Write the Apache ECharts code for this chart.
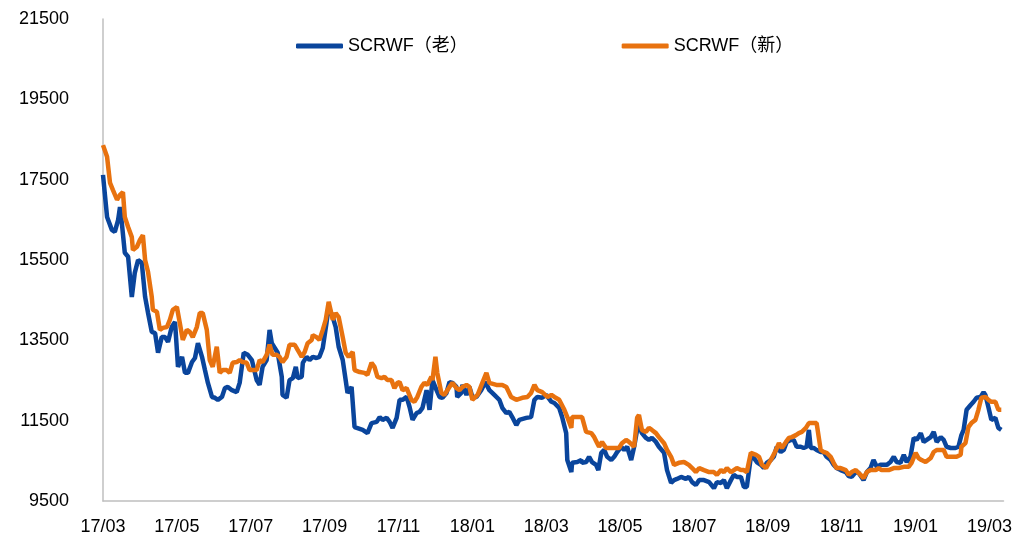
<!DOCTYPE html>
<html>
<head>
<meta charset="utf-8">
<title>SCRWF</title>
<style type="text/css">
html, body {
	margin: 0;
	padding: 0;
	background-color: #fff;
}
#main {
	width: 1015px;
	height: 546px;
}
</style>
</head>
<body>
<div id="main"></div>
<script src="https://cdn.jsdelivr.net/npm/echarts@6/dist/echarts.min.js"></script>
<script type="text/javascript">
// time = months since 2017/03
var oldT = [0, 0.11, 0.24, 0.32, 0.41, 0.46, 0.51, 0.59, 0.68, 0.78, 0.86, 0.95, 1.05, 1.14, 1.22, 1.32, 1.41, 1.49, 1.59, 1.68,
	1.76, 1.86, 1.95, 2.03, 2.14, 2.22, 2.30, 2.41, 2.49, 2.57, 2.68, 2.76, 2.84, 2.95, 3.03, 3.11, 3.22, 3.30, 3.38, 3.49,
	3.62, 3.70, 3.81, 3.92, 4.03, 4.16, 4.24, 4.32, 4.43, 4.51, 4.57, 4.65, 4.73, 4.84, 4.86, 4.97, 5.05, 5.14, 5.22, 5.27,
	5.38, 5.41, 5.51, 5.59, 5.68, 5.78, 5.86, 5.95, 6.05, 6.11, 6.22, 6.30, 6.38, 6.49, 6.57, 6.62, 6.73, 6.81, 7.03, 7.16,
	7.27, 7.41, 7.49, 7.57, 7.68, 7.76, 7.84, 7.95, 8.03, 8.11, 8.22, 8.30, 8.38, 8.49, 8.57, 8.65, 8.76, 8.84, 8.92, 9.03,
	9.11, 9.19, 9.30, 9.38, 9.46, 9.57, 9.59, 9.70, 9.73, 9.84, 9.92, 10.00, 10.11, 10.24, 10.35, 10.46, 10.54, 10.65, 10.73, 10.81,
	10.92, 11.00, 11.08, 11.19, 11.27, 11.46, 11.59, 11.68, 11.76, 11.89, 12.00, 12.14, 12.22, 12.35, 12.43, 12.54, 12.57, 12.68, 12.70, 12.84,
	12.95, 12.97, 13.08, 13.16, 13.24, 13.35, 13.41, 13.49, 13.57, 13.65, 13.76, 13.84, 13.92, 14.03, 14.11, 14.19, 14.30, 14.38, 14.46, 14.51,
	14.59, 14.70, 14.78, 14.86, 14.97, 15.05, 15.19, 15.27, 15.38, 15.46, 15.54, 15.65, 15.78, 15.86, 15.95, 16.05, 16.14, 16.27, 16.41, 16.54,
	16.62, 16.73, 16.81, 16.89, 17.00, 17.08, 17.16, 17.27, 17.35, 17.43, 17.54, 17.62, 17.70, 17.81, 17.89, 17.97, 18.08, 18.16, 18.24, 18.35,
	18.43, 18.51, 18.62, 18.70, 18.78, 18.89, 18.97, 19.05, 19.11, 19.16, 19.24, 19.32, 19.43, 19.51, 19.59, 19.70, 19.78, 19.86, 19.97, 20.11,
	20.19, 20.27, 20.38, 20.46, 20.59, 20.68, 20.78, 20.86, 20.95, 21.05, 21.14, 21.22, 21.32, 21.41, 21.49, 21.59, 21.68, 21.76, 21.86, 21.95,
	22.03, 22.14, 22.22, 22.30, 22.41, 22.49, 22.57, 22.68, 22.76, 22.84, 22.95, 23.08, 23.16, 23.24, 23.30, 23.38, 23.49, 23.57, 23.65, 23.76,
	23.84, 23.89, 23.97, 24.05, 24.16, 24.24, 24.32];
var oldV = [17620, 16570, 16250, 16200, 16500, 16820, 16420, 15680, 15580, 14580, 15180, 15500, 15430, 14580, 14180, 13710, 13680, 13190, 13580, 13580,
	13460, 13830, 13960, 12840, 13090, 12690, 12690, 12960, 13060, 13430, 13090, 12760, 12440, 12090, 12070, 12020, 12090, 12310, 12340, 12260,
	12210, 12440, 13190, 13140, 13010, 12510, 12390, 12840, 13010, 13760, 13430, 13310, 13190, 12590, 12140, 12070, 12510, 12560, 12840, 12560,
	12590, 12940, 13090, 13010, 13090, 13060, 13090, 13310, 13930, 14330, 14080, 13830, 13340, 13010, 12510, 12190, 12340, 11340, 11270, 11190,
	11440, 11470, 11590, 11520, 11570, 11470, 11320, 11570, 12020, 12020, 12090, 11840, 11520, 11690, 11720, 11820, 12260, 11770, 12510, 12260,
	12090, 12070, 12190, 12460, 12440, 12340, 12090, 12190, 12390, 12140, 12340, 12090, 12090, 12260, 12460, 12260, 12190, 12090, 12020, 11820,
	11690, 11720, 11590, 11390, 11520, 11570, 11590, 12020, 12090, 12070, 12140, 11970, 11940, 11820, 11590, 11190, 10520, 10220, 10450, 10470,
	10520, 10450, 10470, 10600, 10470, 10400, 10270, 10700, 10770, 10600, 10520, 10600, 10720, 10850, 10770, 10850, 10520, 10850, 11270, 11390,
	11190, 11070, 11020, 11070, 10970, 10850, 10700, 10270, 9950, 10020, 10050, 10100, 10050, 10100, 9970, 9900, 10020, 10020, 9970, 9820,
	9970, 9950, 10020, 9820, 10020, 10150, 10100, 10100, 9850, 9850, 10600, 10570, 10470, 10400, 10320, 10450, 10520, 10600, 10850, 10720,
	10770, 10970, 11020, 11020, 10850, 10850, 10820, 10850, 11270, 10820, 10820, 10770, 10720, 10720, 10600, 10520, 10400, 10320, 10270, 10220,
	10120, 10100, 10220, 10200, 10020, 10220, 10320, 10520, 10350, 10400, 10400, 10400, 10470, 10600, 10470, 10450, 10650, 10470, 10600, 11070,
	11020, 11190, 10970, 11020, 11090, 11220, 10970, 11090, 11020, 10850, 10820, 10820, 10850, 11140, 11270, 11770, 11890, 11970, 12070, 12090,
	12210, 12140, 11840, 11520, 11570, 11320, 11270];

var newT = [0, 0.11, 0.19, 0.27, 0.38, 0.46, 0.54, 0.59, 0.68, 0.78, 0.81, 0.92, 1.00, 1.08, 1.14, 1.22, 1.32, 1.35, 1.46, 1.54,
	1.62, 1.73, 1.81, 1.89, 2.00, 2.08, 2.16, 2.27, 2.35, 2.43, 2.54, 2.62, 2.70, 2.81, 2.89, 2.97, 3.08, 3.16, 3.24, 3.35,
	3.43, 3.51, 3.62, 3.70, 3.78, 3.89, 3.97, 4.05, 4.16, 4.24, 4.32, 4.43, 4.51, 4.59, 4.70, 4.78, 4.86, 4.97, 5.05, 5.19,
	5.27, 5.38, 5.46, 5.54, 5.65, 5.68, 5.78, 5.86, 5.95, 6.03, 6.11, 6.22, 6.30, 6.38, 6.49, 6.57, 6.65, 6.76, 6.81, 6.95,
	7.08, 7.16, 7.27, 7.35, 7.43, 7.54, 7.62, 7.70, 7.81, 7.89, 7.97, 8.03, 8.11, 8.22, 8.35, 8.43, 8.51, 8.62, 8.70, 8.78,
	8.89, 8.92, 9.00, 9.05, 9.16, 9.24, 9.38, 9.46, 9.57, 9.65, 9.73, 9.84, 9.92, 10.00, 10.14, 10.27, 10.38, 10.46, 10.65, 10.81,
	10.92, 11.05, 11.19, 11.35, 11.49, 11.59, 11.68, 11.76, 11.89, 12.03, 12.14, 12.22, 12.35, 12.49, 12.57, 12.68, 12.70, 12.97, 13.08, 13.22,
	13.30, 13.38, 13.43, 13.51, 13.62, 13.78, 13.97, 14.05, 14.16, 14.24, 14.38, 14.46, 14.51, 14.59, 14.70, 14.78, 14.86, 14.97, 15.05, 15.19,
	15.27, 15.38, 15.46, 15.59, 15.73, 15.86, 15.95, 16.05, 16.14, 16.27, 16.41, 16.54, 16.62, 16.73, 16.81, 16.89, 17.00, 17.08, 17.16, 17.27,
	17.35, 17.43, 17.54, 17.68, 17.76, 17.84, 17.95, 18.03, 18.11, 18.22, 18.30, 18.38, 18.49, 18.57, 18.65, 18.76, 18.84, 18.92, 19.03, 19.11,
	19.24, 19.32, 19.43, 19.51, 19.59, 19.70, 19.78, 19.86, 19.97, 20.11, 20.19, 20.27, 20.38, 20.51, 20.59, 20.68, 20.78, 20.92, 21.00, 21.08,
	21.19, 21.27, 21.41, 21.54, 21.68, 21.81, 21.89, 22.00, 22.08, 22.16, 22.27, 22.41, 22.49, 22.57, 22.68, 22.76, 22.84, 22.97, 23.11, 23.22,
	23.24, 23.35, 23.43, 23.51, 23.62, 23.70, 23.78, 23.89, 23.97, 24.05, 24.16, 24.24, 24.32];
var newV = [18360, 18070, 17420, 17240, 17000, 17120, 17190, 16570, 16320, 16070, 15750, 15830, 16000, 16120, 15500, 15200, 14580, 14260, 14210, 13760,
	13810, 13830, 14010, 14260, 14330, 13930, 13510, 13760, 13710, 13580, 13830, 14180, 14180, 13760, 13010, 12840, 13340, 12690, 12760, 12760,
	12690, 12940, 12960, 13010, 12960, 12940, 12760, 12760, 12760, 13010, 12960, 13140, 13390, 13140, 13140, 13090, 12960, 13090, 13390, 13390,
	13260, 13090, 13210, 13430, 13510, 13630, 13580, 13510, 13760, 14010, 14460, 14010, 14180, 14080, 13580, 13190, 13090, 13210, 12760, 12710,
	12690, 12640, 12940, 12840, 12590, 12560, 12590, 12510, 12510, 12310, 12440, 12460, 12260, 12310, 12020, 11970, 12090, 12340, 12440, 12390,
	12590, 12510, 13090, 12690, 12190, 12140, 12340, 12440, 12310, 12260, 12340, 12390, 12340, 12020, 12140, 12440, 12690, 12440, 12390, 12390,
	12340, 12090, 12020, 12070, 12090, 12190, 12390, 12260, 12210, 12090, 12140, 12090, 12020, 11770, 11590, 11320, 11590, 11590, 11220, 11190,
	11090, 10940, 10850, 10970, 10820, 10820, 10820, 10940, 11020, 10970, 10850, 11570, 11640, 11270, 11220, 11320, 11270, 11190, 11090, 10940,
	10770, 10600, 10400, 10450, 10470, 10400, 10320, 10220, 10320, 10270, 10220, 10220, 10150, 10270, 10220, 10320, 10220, 10270, 10320, 10270,
	10270, 10220, 10700, 10650, 10600, 10400, 10320, 10450, 10570, 10770, 10940, 10820, 10970, 11070, 11090, 11140, 11190, 11220, 11320, 11440,
	11440, 11440, 10770, 10720, 10700, 10600, 10450, 10320, 10320, 10270, 10150, 10220, 10270, 10150, 10070, 10220, 10270, 10270, 10320, 10270,
	10270, 10270, 10320, 10320, 10350, 10350, 10450, 10700, 10570, 10520, 10470, 10570, 10720, 10770, 10770, 10770, 10600, 10600, 10600, 10650,
	10850, 10940, 11340, 11440, 11520, 11770, 12070, 12090, 12020, 11970, 11970, 11770, 11770];

var yTicks = [9500, 11500, 13500, 15500, 17500, 19500, 21500];
var xTicks = [0, 2, 4, 6, 8, 10, 12, 14, 16, 18, 20, 22, 24];
var names = ['SCRWF（老）', 'SCRWF（新）'];
var colors = ['#0a459c', '#e8720f'];

function zip(t, v) {
	var d = [];
	for (var i = 0; i < t.length; i++) {
		d.push([t[i], v[i]]);
	}
	return d;
}

// months since 2017/03 -> yy/MM
function monthLabel(m) {
	var k = Math.round(m) + 2;
	var y = 17 + Math.floor(k / 12);
	var mo = k % 12 + 1;
	return y + '/' + (mo < 10 ? '0' + mo : mo);
}

var font = '"Liberation Sans", "Noto Sans CJK SC", sans-serif';

var option = {
	animation: false,
	color: colors,
	textStyle: { fontFamily: font },
	legend: {
		left: 291,
		top: 32,
		itemWidth: 47,
		itemHeight: 5,
		itemGap: 154,
		icon: 'roundRect',
		textStyle: { fontSize: 18, color: '#000', fontFamily: font },
		data: names
	},
	grid: {
		left: 103,
		right: 10,
		top: 19,
		bottom: 45
	},
	xAxis: {
		type: 'value',
		min: 0,
		max: 24.38,
		splitLine: { show: false },
		axisTick: { show: false },
		axisLine: { show: true, lineStyle: { color: '#bfbfbf', width: 1.5 } },
		axisLabel: {
			customValues: xTicks,
			formatter: monthLabel,
			fontSize: 18,
			color: '#000',
			margin: 17,
			fontFamily: font
		}
	},
	yAxis: {
		type: 'value',
		min: 9500,
		max: 21500,
		splitLine: { show: false },
		axisTick: { show: false },
		axisLine: { show: true, lineStyle: { color: '#bfbfbf', width: 1.5 } },
		axisLabel: {
			customValues: yTicks,
			formatter: function (v) { return String(v); },
			fontSize: 18,
			color: '#000',
			margin: 34,
			fontFamily: font
		}
	},
	series: [
		{
			name: names[0],
			type: 'line',
			showSymbol: false,
			data: zip(oldT, oldV),
			lineStyle: { width: 4.5, color: colors[0] },
			z: 2
		},
		{
			name: names[1],
			type: 'line',
			showSymbol: false,
			data: zip(newT, newV),
			lineStyle: { width: 4.5, color: colors[1] },
			z: 3
		}
	]
};

var myChart = echarts.init(document.getElementById('main'));
myChart.setOption(option);
</script>
</body>
</html>
